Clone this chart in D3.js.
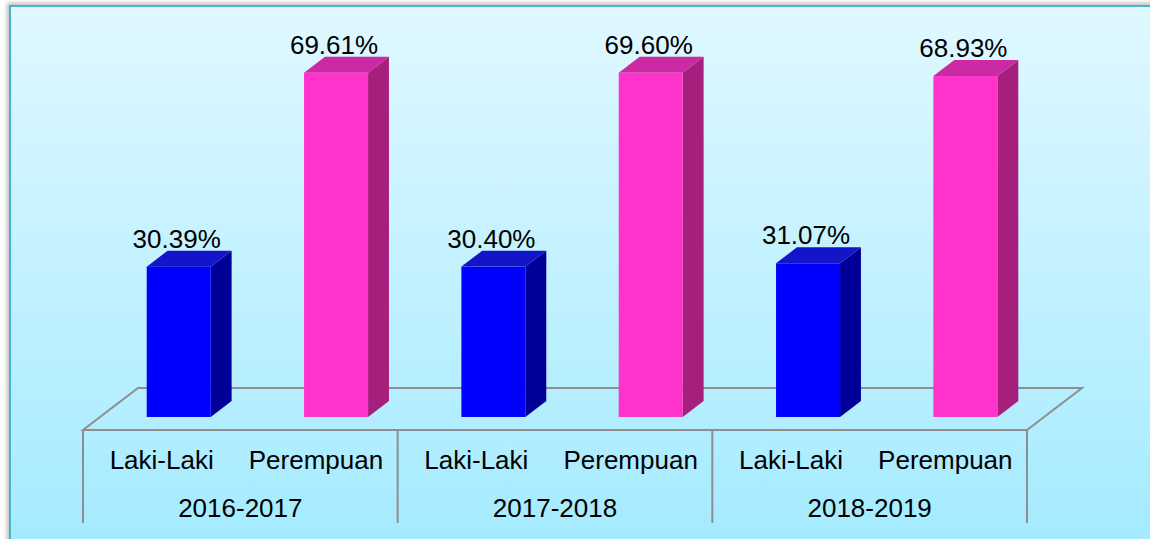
<!DOCTYPE html>
<html>
<head>
<meta charset="utf-8">
<script src="https://cdn.jsdelivr.net/npm/d3@7"></script>
<style>
  html, body { margin: 0; padding: 0; background: #fff; }
  text { font-family: "Liberation Sans", Arial, sans-serif; fill: #000; }
</style>
</head>
<body>
<div id="chart"></div>
<script>
// data
var years = ['2016-2017', '2017-2018', '2018-2019'];
var genders = ['Laki-Laki', 'Perempuan'];
var lakiValues = [30.39, 30.40, 31.07];
var perempuanValues = [69.61, 69.60, 68.93];
var valueLabels = [['30.39%', '69.61%'], ['30.40%', '69.60%'], ['31.07%', '68.93%']];

var attrs = {
  svgWidth: 1150,
  svgHeight: 539,
  floorLeft: 83,
  floorRight: 1027,
  floorFront: 430,
  depthX: 55,
  depthY: 42,
  axisBottom: 523,
  colors: {
    'Laki-Laki': { front: '#0000ff', side: '#000099', top: '#1414c8' },
    'Perempuan': { front: '#ff33cc', side: '#a61f7c', top: '#cc2aa4' }
  }
};

var rows = [];
years.forEach(function (y, i) {
  rows.push({ year: y, gender: 'Laki-Laki', value: lakiValues[i], label: valueLabels[i][0] });
  rows.push({ year: y, gender: 'Perempuan', value: perempuanValues[i], label: valueLabels[i][1] });
});

// scales
var scales = {};
scales.x = d3.scaleBand().domain(years).range([attrs.floorLeft, attrs.floorRight]);
scales.inner = d3.scaleBand().domain(genders).range([0, scales.x.bandwidth()]);
scales.y = d3.scaleLinear().domain([0, 80]).range([attrs.floorFront, attrs.floorFront - 395.7]);

// bar depth (fraction of floor depth)
var f0 = 0.31, f1 = 0.69;
var barWidth = 64;

var svg = d3.select('#chart').append('svg')
  .attr('width', attrs.svgWidth)
  .attr('height', attrs.svgHeight);

var defs = svg.append('defs');
var grad = defs.append('linearGradient').attr('id', 'bg').attr('x1', 0).attr('y1', 0).attr('x2', 0).attr('y2', 1);
grad.append('stop').attr('offset', '0%').attr('stop-color', '#e0f8ff');
grad.append('stop').attr('offset', '100%').attr('stop-color', '#a2eaff');
defs.append('filter').attr('id', 'shadow').attr('x', '-5%').attr('y', '-5%').attr('width', '110%').attr('height', '110%')
  .append('feGaussianBlur').attr('stdDeviation', 2);

// frame
svg.append('rect').attr('x', 7).attr('y', 3).attr('width', 1160).attr('height', 560)
  .attr('fill', '#bbb').attr('filter', 'url(#shadow)');
svg.append('rect').attr('x', 10).attr('y', 6).attr('width', 1160).attr('height', 560)
  .attr('fill', 'url(#bg)').attr('stroke', '#4ab3cf').attr('stroke-width', 2);

var chart = svg.append('g');

// floor
var fl = attrs.floorLeft, fr = attrs.floorRight, ff = attrs.floorFront;
var floorPts = [[fl, ff], [fl + attrs.depthX, ff - attrs.depthY], [fr + attrs.depthX, ff - attrs.depthY], [fr, ff]];
chart.append('path')
  .attr('d', d3.line()(floorPts) + 'Z')
  .attr('fill', 'none').attr('stroke', '#8e8e8e').attr('stroke-width', 2);

// category axis lines
var edges = years.map(function (y) { return scales.x(y); }).concat([fr]);
chart.selectAll('.tick-line').data(edges).enter().append('line')
  .attr('class', 'tick-line')
  .attr('x1', function (d) { return d; }).attr('x2', function (d) { return d; })
  .attr('y1', ff).attr('y2', attrs.axisBottom)
  .attr('stroke', '#8e8e8e').attr('stroke-width', 2);

// bars
var bars = chart.selectAll('.bar').data(rows).enter().append('g').attr('class', 'bar');

function geom(d) {
  var cx = scales.x(d.year) + scales.inner(d.gender) + scales.inner.bandwidth() / 2;
  var x0 = cx + attrs.depthX * f0 - barWidth / 2;
  var x1 = x0 + barWidth;
  var yb = scales.y(0) - attrs.depthY * f0;
  var yt = scales.y(d.value) - attrs.depthY * f0;
  var dx = attrs.depthX * (f1 - f0), dy = attrs.depthY * (f1 - f0);
  return { x0: x0, x1: x1, yb: yb, yt: yt, dx: dx, dy: dy };
}

bars.append('path')
  .attr('d', function (d) {
    var g = geom(d);
    return d3.line()([[g.x1, g.yt], [g.x1 + g.dx, g.yt - g.dy], [g.x1 + g.dx, g.yb - g.dy], [g.x1, g.yb]]) + 'Z';
  })
  .attr('fill', function (d) { return attrs.colors[d.gender].side; });

bars.append('path')
  .attr('d', function (d) {
    var g = geom(d);
    return d3.line()([[g.x0, g.yt], [g.x0 + g.dx, g.yt - g.dy], [g.x1 + g.dx, g.yt - g.dy], [g.x1, g.yt]]) + 'Z';
  })
  .attr('fill', function (d) { return attrs.colors[d.gender].top; });

bars.append('rect')
  .attr('x', function (d) { return geom(d).x0; })
  .attr('y', function (d) { return geom(d).yt; })
  .attr('width', barWidth)
  .attr('height', function (d) { var g = geom(d); return g.yb - g.yt; })
  .attr('fill', function (d) { return attrs.colors[d.gender].front; });

bars.append('text')
  .attr('x', function (d) { var g = geom(d); return (g.x0 + g.x1) / 2 - 2; })
  .attr('y', function (d) { var g = geom(d); return g.yt - g.dy - 3; })
  .attr('text-anchor', 'middle')
  .style('font-size', '26px')
  .text(function (d) { return d.label; });

// category labels
var labels = chart.append('g');
years.forEach(function (y) {
  genders.forEach(function (g) {
    labels.append('text')
      .attr('x', scales.x(y) + scales.inner(g) + scales.inner.bandwidth() / 2 - (g === 'Perempuan' ? 3 : 0))
      .attr('y', 469)
      .attr('text-anchor', 'middle')
      .style('font-size', '26px')
      .text(g);
  });
  labels.append('text')
    .attr('x', scales.x(y) + scales.x.bandwidth() / 2)
    .attr('y', 517)
    .attr('text-anchor', 'middle')
    .style('font-size', '26px')
    .text(y);
});
</script>
</body>
</html>
